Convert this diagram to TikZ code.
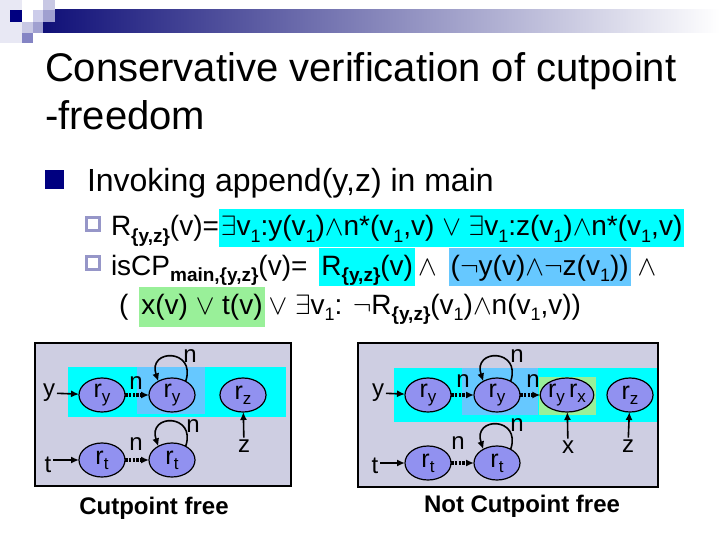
\RequirePackage{fix-cm}
\documentclass[tikz,border=0pt]{standalone}
\usepackage{fontspec}
\setmainfont{Liberation Sans}
\usetikzlibrary{shapes.geometric,arrows.meta}
\definecolor{navy}{RGB}{16,16,120}
\definecolor{bulletnavy}{RGB}{0,0,128}
\definecolor{hollow}{RGB}{150,150,200}
\definecolor{panel}{RGB}{206,206,226}
\definecolor{band}{RGB}{0,255,255}
\definecolor{ltblue}{RGB}{102,200,255}
\definecolor{ltgreen}{RGB}{153,240,153}
\definecolor{nodefill}{RGB}{145,145,240}
\definecolor{sqA}{RGB}{232,232,244}
\definecolor{sqB}{RGB}{204,204,234}
\definecolor{sqC}{RGB}{160,160,208}
\definecolor{sqD}{RGB}{200,200,228}
\definecolor{sqE}{RGB}{132,132,196}
\newcommand\sbb[1]{\raisebox{-6pt}{\fontsize{19}{19}\selectfont\bfseries #1}}
\newcommand\sbn[1]{\raisebox{-6pt}{\fontsize{18}{18}\selectfont #1}}
\newcommand\dsub[1]{\raisebox{-5pt}{\fontsize{17}{17}\selectfont #1}}
\begin{document}
\begin{tikzpicture}[x=1pt,y=-1pt,
  every node/.style={inner sep=0pt, outer sep=0pt},
  txt/.style={anchor=base west, font=\fontsize{28}{34}\selectfont},
  hl/.style={txt, inner xsep=2pt, text height=27pt, text depth=11pt},
  st/.style={ellipse, draw=black, line width=1.2pt, fill=nodefill, minimum width=46pt, minimum height=34pt, inner sep=0pt, font=\fontsize{25}{25}\selectfont},
  lab/.style={font=\fontsize{24}{24}\selectfont, inner sep=2pt},
  ptr/.style={-{Latex[length=8pt,width=7pt]}, line width=1.6pt},
  dotarr/.style={-{Latex[length=8pt,width=7pt]}, line width=3.2pt, dash pattern=on 2.5pt off 1.3pt},
  panelst/.style={draw=black, line width=2.5pt, fill=panel},
  captxt/.style={font=\fontsize{24}{24}\selectfont\bfseries},
  hollowsq/.style={draw=hollow, line width=2.4pt, minimum size=13pt}
]
\useasboundingbox (0,0) rectangle (720,540);
% header decoration
\fill[sqA] (0,0) rectangle (22,43);
\shade[left color=navy, right color=white] (43,10) rectangle (720,33);
\fill[bulletnavy] (10,10) rectangle (22,22);
\fill[sqB] (33,10) rectangle (43,22);
\fill[sqD] (43,0) rectangle (55,10);
\fill[sqC] (43,10) rectangle (55,22);
\fill[sqD] (22,22) rectangle (33,33);
\fill[sqC] (33,22) rectangle (43,33);
\fill[sqE] (22,33) rectangle (33,43);
% title
\node[anchor=base west, font=\fontsize{40}{48}\selectfont] (title1) at (45,82) {Conservative verification of cutpoint};
\node[anchor=base west, font=\fontsize{40}{48}\selectfont] (title2) at (45,130) {-freedom};
% bullets
\node[fill=bulletnavy, minimum size=19pt] (b1) at (54.5,180) {};
\node[anchor=base west, font=\fontsize{32}{38}\selectfont] (inv) at (87,192) {Invoking append(y,z) in main};
\node[hollowsq] (b2) at (93,224) {};
\node[hollowsq] (b3) at (93,263) {};
% line 1
\node[txt] (r1a) at (111,236) {R\sbb{\{y,z\}}(v)=};
\node[hl, fill=band] (r1b) at (r1a.base east) {$\exists$v\sbn{1}:y(v\sbn{1})$\wedge$n*(v\sbn{1},v) $\vee$ $\exists$v\sbn{1}:z(v\sbn{1})$\wedge$n*(v\sbn{1},v)};
% line 2
\node[txt] (r2a) at (111,275) {isCP\sbb{main,\{y,z\}}(v)=};
\node[hl, fill=band] (r2b) at ([xshift=12pt]r2a.base east) {R\sbb{\{y,z\}}(v)};
\node[txt] (r2c) at ([xshift=3pt]r2b.base east) {$\wedge$};
\node[hl, fill=ltblue] (r2d) at ([xshift=12pt]r2c.base east) {($\neg$y(v)$\wedge\neg$z(v\sbn{1}))};
\node[txt] (r2e) at ([xshift=7pt]r2d.base east) {$\wedge$};
% line 3
\node[txt] (r3a) at (119,314) {(};
\node[hl, fill=ltgreen, text depth=13pt] (r3b) at ([xshift=11pt]r3a.base east) {x(v) $\vee$ t(v)};
\node[txt] (r3c) at ([xshift=4pt]r3b.base east) {$\vee$ $\exists$v\sbn{1}: $\neg$R\sbb{\{y,z\}}(v\sbn{1})$\wedge$n(v\sbn{1},v))};
% ---------- left panel
\draw[panelst] (35,343) rectangle (291,486);
\fill[band] (68,367) rectangle (286,417);
\fill[ltblue] (137,367) rectangle (205,414);
\node[st] (Lry1) at (102,395) {r\dsub{y}};
\node[st] (Lry2) at (172,395) {r\dsub{y}};
\node[st] (Lrz) at (243,395) {r\dsub{z}};
\node[st] (Lrt1) at (102,460) {r\dsub{t}};
\node[st] (Lrt2) at (172,460) {r\dsub{t}};
\node[lab] (Ly) at (49,393) {y};
\node[lab] (Lt) at (48,465) {t};
\node[lab] (Lz) at (244,446) {z};
\node[lab] (Ln1) at (136,383) {n};
\node[lab] (Ln2) at (190,356) {n};
\node[lab] (Ln3) at (136,444) {n};
\node[lab] (Ln4) at (193,426) {n};
\draw[ptr] (Ly) -- (Lry1);
\draw[ptr] (Lt.east |- Lrt1.west) -- (Lrt1.west);
\draw[ptr] (Lz) -- (Lrz);
\draw[dotarr] (Lry1) -- (Lry2);
\draw[dotarr] (Lrt1) -- (Lrt2);
\draw[ptr] (Lry2.45) .. controls ([shift={(11,-33)}]Lry2.45) and ([shift={(-11,-33)}]Lry2.135) .. (Lry2.135);
\draw[ptr] (Lrt2.45) .. controls ([shift={(11,-33)}]Lrt2.45) and ([shift={(-11,-33)}]Lrt2.135) .. (Lrt2.135);
\node[captxt] (capL) at (154,508) {Cutpoint free};
% ---------- right panel
\draw[panelst] (358,343) rectangle (658,487);
\fill[band] (394,368) rectangle (657,422);
\fill[ltblue] (462,368) rectangle (538,415);
\fill[ltgreen] (539,377) rectangle (596,415);
\node[st] (Rry1) at (428,395) {r\dsub{y}};
\node[st] (Rry2) at (497,395) {r\dsub{y}};
\node[st] (Rryx) at (567,395) {r\dsub{y}\,r\dsub{x}};
\node[st] (Rrz) at (630,395) {r\dsub{z}};
\node[st] (Rrt1) at (428,463) {r\dsub{t}};
\node[st] (Rrt2) at (497,463) {r\dsub{t}};
\node[lab] (Ry) at (378,393) {y};
\node[lab] (Rt) at (375,466) {t};
\node[lab] (Rx) at (568,447) {x};
\node[lab] (Rz) at (628,446) {z};
\node[lab] (Rn1) at (463,381) {n};
\node[lab] (Rn2) at (517,356) {n};
\node[lab] (Rn3) at (533,381) {n};
\node[lab] (Rn4) at (458,443) {n};
\node[lab] (Rn5) at (517,425) {n};
\draw[ptr] (Ry) -- (Rry1);
\draw[ptr] (Rt.east |- Rrt1.west) -- (Rrt1.west);
\draw[ptr] (Rx) -- (Rryx);
\draw[ptr] (Rz) -- (Rrz);
\draw[dotarr] (Rry1) -- (Rry2);
\draw[dotarr] (Rry2) -- (Rryx);
\draw[dotarr] (Rrt1) -- (Rrt2);
\draw[ptr] (Rry2.45) .. controls ([shift={(11,-33)}]Rry2.45) and ([shift={(-11,-33)}]Rry2.135) .. (Rry2.135);
\draw[ptr] (Rrt2.45) .. controls ([shift={(11,-33)}]Rrt2.45) and ([shift={(-11,-33)}]Rrt2.135) .. (Rrt2.135);
\node[captxt] (capR) at (522,506) {Not Cutpoint free};
\end{tikzpicture}
\end{document}
